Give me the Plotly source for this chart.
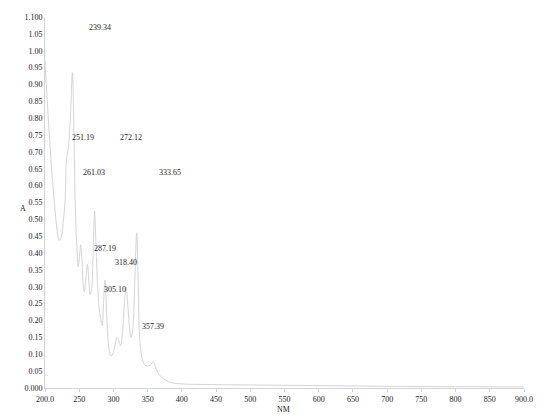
import plotly.graph_objs as go

# absorbance spectrum
nm = [200, 203, 206, 210, 215, 219, 221, 224, 227, 229.5, 231.5, 234, 237, 240,
      242, 244, 246.5, 248.5, 250.5, 252, 254, 256, 257.5, 259.5, 262, 264, 266,
      268, 270, 272.5, 274.5, 277, 279, 281, 283.5, 285.5, 287.5, 289.5, 291.5,
      294, 296.5, 299, 302, 305.5, 308, 310.5, 313, 316, 318.5, 320.5, 323, 325.5,
      328, 331, 334, 336, 338, 340, 343, 346, 350, 354, 358, 361, 365, 370, 375,
      382, 390, 400, 450, 500, 600, 700, 800, 900]
absorb = [0.97, 0.86, 0.76, 0.64, 0.52, 0.45, 0.437, 0.45, 0.50, 0.56, 0.68, 0.71,
          0.80, 0.935, 0.80, 0.56, 0.42, 0.36, 0.39, 0.425, 0.38, 0.30, 0.285, 0.32,
          0.367, 0.32, 0.276, 0.29, 0.38, 0.525, 0.42, 0.30, 0.24, 0.21, 0.185,
          0.25, 0.32, 0.25, 0.16, 0.11, 0.095, 0.10, 0.125, 0.15, 0.14, 0.125, 0.16,
          0.25, 0.30, 0.26, 0.19, 0.15, 0.17, 0.30, 0.46, 0.33, 0.16, 0.11, 0.08,
          0.068, 0.065, 0.068, 0.077, 0.065, 0.045, 0.033, 0.025, 0.017, 0.014,
          0.012, 0.010, 0.009, 0.007, 0.005, 0.004, 0.003]

# peak labels and where they sit on the chart
peak_text = ["239.34", "251.19", "272.12", "261.03", "333.65", "287.19", "318.40", "305.10", "357.39"]
peak_x = [280.5, 256, 325.7, 271.6, 382.7, 287.7, 318.4, 302, 357.9]
peak_y = [1.070, 0.744, 0.744, 0.640, 0.640, 0.414, 0.373, 0.291, 0.182]

x_ticks = list(range(200, 901, 50))
x_labels = ["200.0"] + [str(v) for v in x_ticks[1:-1]] + ["900.0"]
y_ticks = [round(i * 0.05, 2) for i in range(23)]
y_labels = ["0.000"] + ["%.2f" % v for v in y_ticks[1:-1]] + ["1.100"]

font = dict(family="Times New Roman, Liberation Serif, serif", size=8, color="#222222")
grey = "#d4d4d4"

fig = go.Figure(go.Scatter(x=nm, y=absorb, mode="lines", line=dict(color=grey, width=1),
                           line_shape="spline", showlegend=False, hoverinfo="skip"))

for t, x, y in zip(peak_text, peak_x, peak_y):
    fig.add_annotation(x=x, y=y, text=t, showarrow=False, font=font)

# the page body has an 8px margin, so the figure is a bit smaller than the window
fig.update_layout(
    width=542, height=411,
    margin=dict(l=37, r=26, t=9, b=31, autoexpand=False),
    paper_bgcolor="white", plot_bgcolor="white",
    font=font,
    xaxis=dict(range=[200, 900], tickvals=x_ticks, ticktext=x_labels, showgrid=False,
               zeroline=False, showline=True, linecolor=grey, ticks="outside", ticklen=3,
               tickcolor=grey, automargin=False),
    yaxis=dict(range=[0, 1.1], tickvals=y_ticks, ticktext=y_labels, showgrid=False,
               zeroline=False, showline=True, linecolor=grey, ticks="", automargin=False),
)
fig.add_annotation(xref="paper", yref="paper", x=(18 - 45) / 479, y=(388 - 209) / 371,
                   text="A", showarrow=False, font=font)
fig.add_annotation(xref="paper", yref="paper", x=(283 - 45) / 479, y=(388 - 403) / 371,
                   yanchor="top", text="NM", showarrow=False, font=font)

fig.write_html("out.html")
